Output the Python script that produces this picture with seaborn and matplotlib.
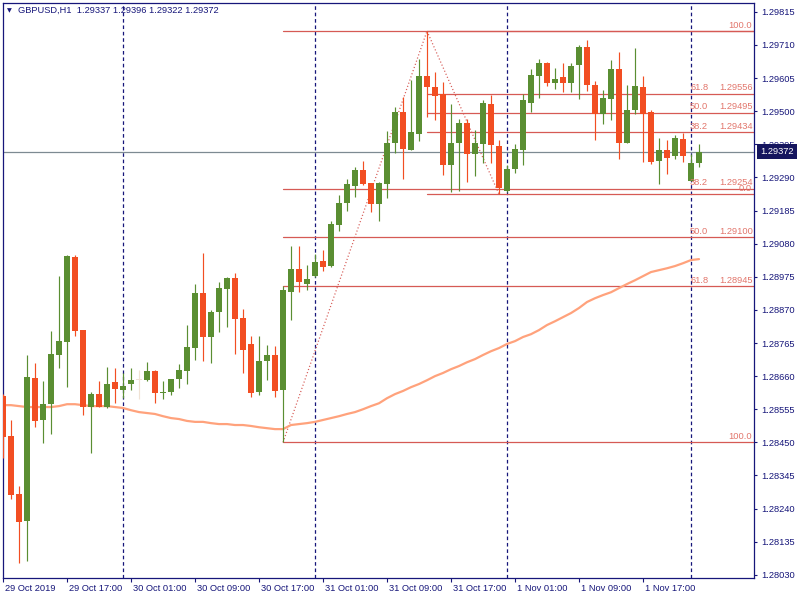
import matplotlib
matplotlib.use("Agg")
import matplotlib.pyplot as plt
import matplotlib.transforms as mtransforms
import numpy as np
import pandas as pd
import seaborn as sns

# ---- GBPUSD H1 candles (bar 0 = 29 Oct 09:00) ----
opens = [1.28597, 1.28470, 1.28286, 1.28200, 1.28654, 1.28521, 1.28571, 1.28727, 1.28768, 1.29037,
         1.28806, 1.28562, 1.28603, 1.28562, 1.28641, 1.28616, 1.28635, 1.28647, 1.28647, 1.28676,
         1.28606, 1.28609, 1.28651, 1.28676, 1.28749, 1.28923, 1.28784, 1.28863, 1.28936, 1.28971,
         1.28844, 1.28762, 1.28609, 1.28708, 1.28727, 1.28616, 1.28926, 1.28999, 1.28952, 1.28977,
         1.29025, 1.29009, 1.29139, 1.29209, 1.29262, 1.29313, 1.29272, 1.29205, 1.29269, 1.29399,
         1.29497, 1.29377, 1.29427, 1.29611, 1.29576, 1.29554, 1.29329, 1.29399, 1.29462, 1.29364,
         1.29396, 1.29522, 1.29389, 1.29247, 1.29316, 1.29377, 1.29525, 1.29611, 1.29652, 1.29589,
         1.29608, 1.29589, 1.29646, 1.29703, 1.29583, 1.29491, 1.29538, 1.29633, 1.29399, 1.29503,
         1.29576, 1.29497, 1.29342, 1.29377, 1.29357, 1.29411, 1.29278, 1.29337]
highs = [1.28603, 1.28521, 1.28311, 1.28727, 1.28701, 1.28644, 1.28803, 1.28977, 1.29044, 1.29044,
         1.28806, 1.28609, 1.28644, 1.28689, 1.28685, 1.28670, 1.28685, 1.28679, 1.28704, 1.28679,
         1.28644, 1.28651, 1.28698, 1.28822, 1.28952, 1.29050, 1.28869, 1.28958, 1.28974, 1.28987,
         1.28872, 1.28787, 1.28787, 1.28758, 1.28755, 1.28945, 1.29072, 1.29072, 1.29012, 1.29047,
         1.29060, 1.29151, 1.29234, 1.29285, 1.29323, 1.29342, 1.29272, 1.29275, 1.29437, 1.29513,
         1.29545, 1.29598, 1.29665, 1.29754, 1.29624, 1.29592, 1.29522, 1.29475, 1.29475, 1.29440,
         1.29535, 1.29551, 1.29408, 1.29329, 1.29396, 1.29554, 1.29633, 1.29665, 1.29655, 1.29636,
         1.29652, 1.29652, 1.29709, 1.29725, 1.29595, 1.29567, 1.29662, 1.29687, 1.29583, 1.29700,
         1.29611, 1.29503, 1.29415, 1.29408, 1.29424, 1.29430, 1.29364, 1.29396]
lows = [1.28400, 1.28270, 1.28067, 1.28074, 1.28498, 1.28448, 1.28476, 1.28685, 1.28625, 1.28787,
        1.28536, 1.28416, 1.28562, 1.28559, 1.28574, 1.28590, 1.28616, 1.28587, 1.28644, 1.28574,
        1.28587, 1.28600, 1.28622, 1.28635, 1.28711, 1.28708, 1.28701, 1.28800, 1.28815, 1.28730,
        1.28670, 1.28594, 1.28600, 1.28647, 1.28594, 1.28450, 1.28838, 1.28926, 1.28933, 1.28974,
        1.28993, 1.29006, 1.29120, 1.29183, 1.29228, 1.29266, 1.29180, 1.29151, 1.29224, 1.29367,
        1.29285, 1.29377, 1.29405, 1.29481, 1.29472, 1.29297, 1.29243, 1.29247, 1.29275, 1.29294,
        1.29335, 1.29335, 1.29237, 1.29243, 1.29304, 1.29329, 1.29497, 1.29541, 1.29579, 1.29570,
        1.29560, 1.29560, 1.29538, 1.29564, 1.29408, 1.29459, 1.29472, 1.29348, 1.29399, 1.29491,
        1.29338, 1.29332, 1.29269, 1.29300, 1.29348, 1.29338, 1.29278, 1.29322]
closes = [1.28467, 1.28283, 1.28197, 1.28657, 1.28517, 1.28571, 1.28730, 1.28771, 1.29040, 1.28803,
          1.28562, 1.28603, 1.28562, 1.28635, 1.28619, 1.28628, 1.28647, 1.28647, 1.28676, 1.28606,
          1.28609, 1.28651, 1.28679, 1.28752, 1.28923, 1.28784, 1.28863, 1.28939, 1.28971, 1.28841,
          1.28743, 1.28606, 1.28708, 1.28727, 1.28613, 1.28933, 1.28999, 1.28958, 1.28968, 1.29021,
          1.29006, 1.29142, 1.29209, 1.29269, 1.29313, 1.29269, 1.29205, 1.29272, 1.29399, 1.29497,
          1.29380, 1.29434, 1.29611, 1.29576, 1.29548, 1.29329, 1.29399, 1.29462, 1.29364, 1.29399,
          1.29525, 1.29392, 1.29256, 1.29316, 1.29380, 1.29535, 1.29614, 1.29652, 1.29589, 1.29602,
          1.29589, 1.29643, 1.29703, 1.29583, 1.29491, 1.29541, 1.29633, 1.29399, 1.29503, 1.29579,
          1.29491, 1.29338, 1.29377, 1.29351, 1.29415, 1.29357, 1.29337, 1.29372]

# moving average (orange line), one value per bar
ma_values = [1.28568, 1.28568, 1.28565, 1.28562, 1.28562, 1.28562, 1.28562, 1.28565, 1.28571, 1.28571,
             1.28568, 1.28565, 1.28565, 1.28565, 1.28562, 1.28559, 1.28552, 1.28546, 1.28543, 1.28540,
             1.28533, 1.28527, 1.28524, 1.28518, 1.28515, 1.28515, 1.28511, 1.28508, 1.28508, 1.28505,
             1.28505, 1.28502, 1.28498, 1.28495, 1.28492, 1.28492, 1.28505, 1.28508, 1.28511, 1.28515,
             1.28521, 1.28527, 1.28533, 1.28540, 1.28546, 1.28555, 1.28565, 1.28574, 1.28590, 1.28603,
             1.28613, 1.28625, 1.28635, 1.28647, 1.28660, 1.28670, 1.28682, 1.28692, 1.28704, 1.28714,
             1.28727, 1.28739, 1.28749, 1.28762, 1.28771, 1.28784, 1.28793, 1.28806, 1.28822, 1.28834,
             1.28847, 1.28860, 1.28876, 1.28895, 1.28907, 1.28917, 1.28926, 1.28939, 1.28952, 1.28964,
             1.28977, 1.28990, 1.28996, 1.29002, 1.29009, 1.29018, 1.29028, 1.29031]

x_tick_labels = ["29 Oct 2019", "29 Oct 17:00", "30 Oct 01:00", "30 Oct 09:00", "30 Oct 17:00",
                 "31 Oct 01:00", "31 Oct 09:00", "31 Oct 17:00", "1 Nov 01:00", "1 Nov 09:00",
                 "1 Nov 17:00"]
price_ticks = [1.28030, 1.28135, 1.28240, 1.28345, 1.28450, 1.28555, 1.28660, 1.28765, 1.28870,
               1.28975, 1.29080, 1.29185, 1.29290, 1.29395, 1.29500, 1.29605, 1.29710, 1.29815]
separator_bars = [15, 39, 63, 86]
last_price = 1.29372

# fibonacci retracements
big_fib_start = 35
big_fib_points = [(35, 1.28450), (53, 1.29754)]
big_fib_levels = ["100.0", "61.8", "50.0", "38.2", "0.0"]
big_fib_prices = [1.28450, 1.28945, 1.29100, 1.29254, 1.29754]
big_fib_show_price = [False, True, True, True, False]
small_fib_start = 53
small_fib_points = [(53, 1.29754), (62, 1.29237)]
small_fib_levels = ["0.0", "38.2", "50.0", "61.8", "100.0"]
small_fib_prices = [1.29237, 1.29434, 1.29495, 1.29556, 1.29754]
small_fib_show_price = [False, True, True, True, False]

navy = "#16167a"
bull = "#5a8e32"
bear = "#f24e22"
fib_col = "#d65a55"
fib_txt = "#e2766c"

sns.set_style("white")
plt.rcParams["font.family"] = ["Liberation Sans", "DejaVu Sans"]
plt.rcParams["lines.scale_dashes"] = False

df = pd.DataFrame({"open": opens, "high": highs, "low": lows, "close": closes, "ma": ma_values})
df["bar"] = np.arange(len(df))
colors = ["#f0e2d4" if c == o else (bull if c > o else bear) for o, c in zip(df["open"], df["close"])]

fig = plt.figure(figsize=(8, 6), dpi=100)
ax = fig.add_axes([3 / 800, 22 / 600, 751 / 800, 575 / 600])

# period separators
for b in separator_bars:
    ax.axvline(b, color=navy, lw=0.9, ls=(0, (2.6, 2.0)), zorder=1)

# current price line
ax.axhline(last_price, color="#7d8a92", lw=0.9, zorder=1)

# fibonacci lines
for start, prices in [(big_fib_start, big_fib_prices), (small_fib_start, small_fib_prices)]:
    for p in prices:
        ax.plot([start, 100], [p, p], color=fib_col, lw=0.9, zorder=1.5)
for pts in [big_fib_points, small_fib_points]:
    ax.plot([pts[0][0], pts[1][0]], [pts[0][1], pts[1][1]], color=fib_col, lw=0.9,
            ls=(0, (0.8, 1.6)), zorder=1.5)

for levels, prices, show in [(big_fib_levels, big_fib_prices, big_fib_show_price),
                             (small_fib_levels, small_fib_prices, small_fib_show_price)]:
    for lev, p, s in zip(levels, prices, show):
        if lev == "0.0" and p == big_fib_prices[-1]:
            continue
        if s:
            ax.annotate(lev, xy=(0.9148, p), xycoords=("axes fraction", "data"), xytext=(0, 1),
                        textcoords="offset points", ha="left", va="bottom", fontsize=6.7,
                        color=fib_txt, zorder=5)
            ax.annotate(f"{p:.5f}", xy=(0.9987, p), xycoords=("axes fraction", "data"), xytext=(0, 1),
                        textcoords="offset points", ha="right", va="bottom", fontsize=6.7,
                        color=fib_txt, zorder=5)
        else:
            ax.annotate(lev, xy=(0.9975, p), xycoords=("axes fraction", "data"), xytext=(0, 1),
                        textcoords="offset points", ha="right", va="bottom", fontsize=6.7,
                        color=fib_txt, zorder=5)

# moving average
sns.lineplot(data=df, x="bar", y="ma", color="#ffa27c", lw=1.6, ax=ax, zorder=2)

# candles
body_low = np.minimum(df["open"], df["close"])
body_h = np.maximum(np.abs(df["close"] - df["open"]), 0.00003)
ax.vlines(df["bar"], df["low"], df["high"], colors=colors, lw=0.85, zorder=3)
ax.bar(df["bar"], body_h, bottom=body_low, width=0.64, color=colors, linewidth=0, zorder=3.5)

ax.set_xlim(0, 751 / 8)
ax.set_ylim(1.28020, 1.29843)
ax.set_xlabel("")
ax.set_ylabel("")

ax.set_xticks(range(0, 88, 8))
ax.set_xticklabels(x_tick_labels)
ax.yaxis.tick_right()
ax.set_yticks(price_ticks)
ax.set_yticklabels([f"{v:.5f}" for v in price_ticks])
ax.tick_params(axis="both", direction="out", color=navy, labelcolor=navy, labelsize=6.7, width=0.8)
ax.tick_params(axis="y", length=2.4, pad=2.5, right=True, left=False)
ax.tick_params(axis="x", length=3.0, pad=1.5, bottom=True)
offset = mtransforms.ScaledTranslation(2 / 100, 0, fig.dpi_scale_trans)
for lab in ax.get_xticklabels():
    lab.set_ha("left")
    lab.set_transform(lab.get_transform() + offset)

for sp in ax.spines.values():
    sp.set_visible(True)
    sp.set_color(navy)
    sp.set_linewidth(0.9)

# price box for last bid
ax.annotate(f"{last_price:.5f}", xy=(1, last_price), xycoords=("axes fraction", "data"),
            xytext=(4.5, 0), textcoords="offset points", ha="left", va="center", fontsize=6.7,
            color="white", zorder=6, annotation_clip=False,
            bbox=dict(boxstyle="square,pad=0.3", fc="#15155e", ec="none"))

# header
ax.text(0.0055, 0.987, "\u25bc", transform=ax.transAxes, fontsize=4.5, color=navy,
        va="center", ha="left", family="DejaVu Sans")
ax.text(0.0200, 0.987, "GBPUSD,H1  1.29337 1.29396 1.29322 1.29372", transform=ax.transAxes,
        fontsize=6.7, color=navy, va="center", ha="left")

fig.savefig("out.png", dpi=100)
